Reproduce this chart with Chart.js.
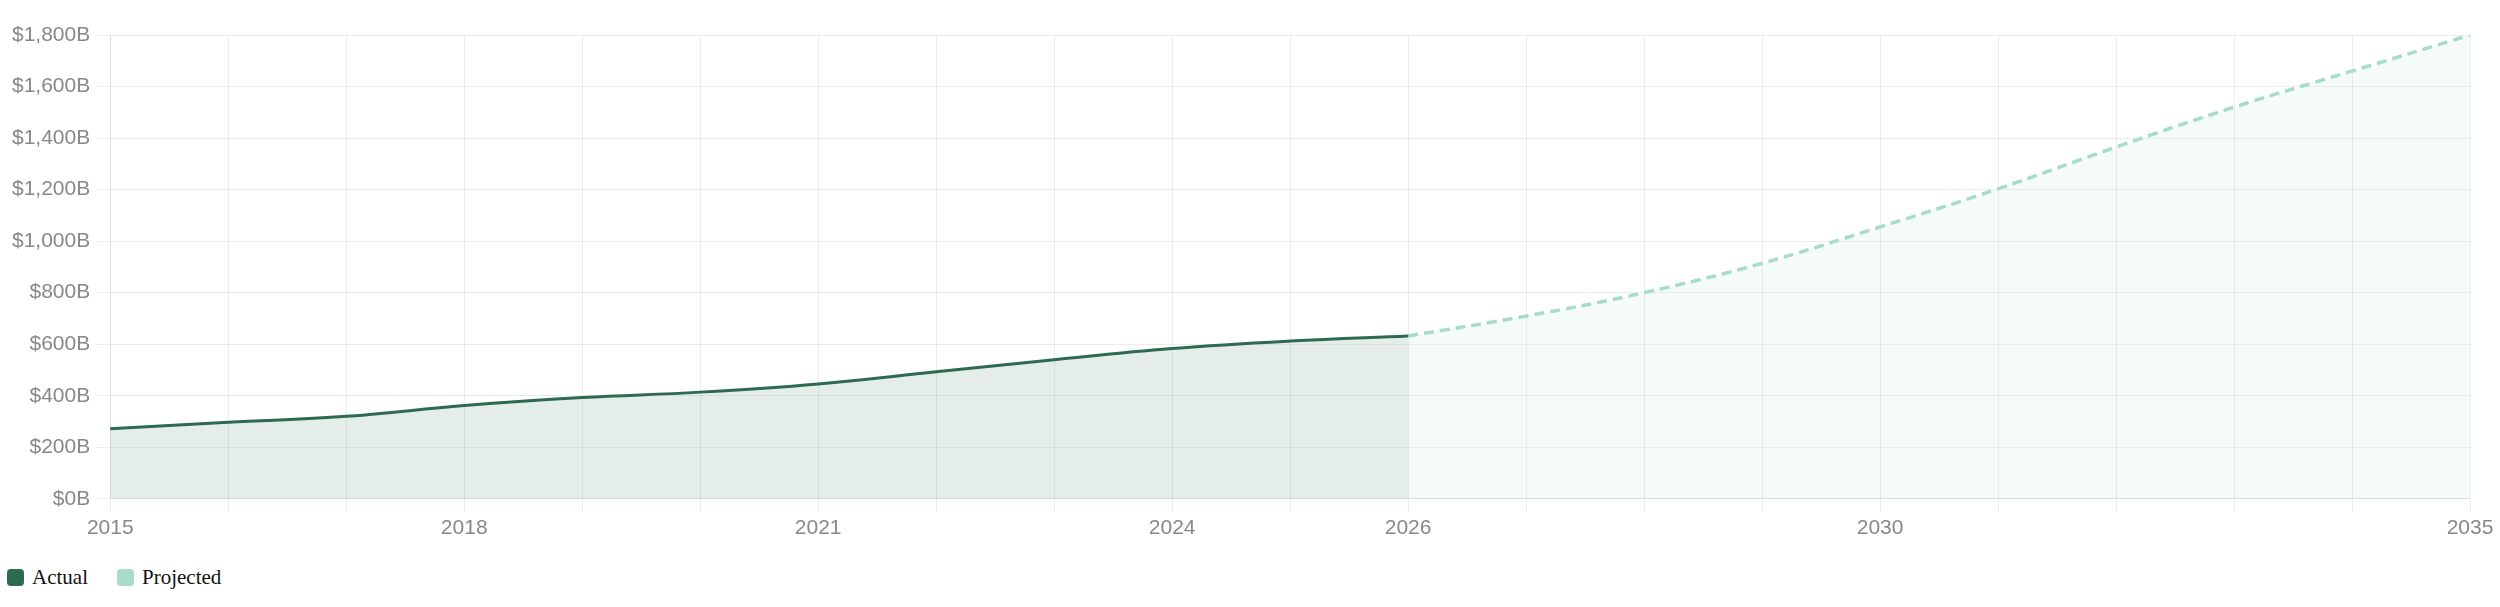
<!DOCTYPE html>
<html>
<head>
<meta charset="utf-8">
<title>Market size</title>
<script src="https://cdn.jsdelivr.net/npm/chart.js@4.4.0/dist/chart.umd.min.js"></script>
<style>
  body { margin: 0; background: #fff; }
  #wrap { position: relative; width: 2500px; height: 545px; }
  #legend { position: absolute; top: 565px; left: 7px; display: flex; align-items: center;
            font-family: "Liberation Serif", "Times New Roman", serif; font-size: 21px; color: #111; }
  .item { display: flex; align-items: center; margin-right: 29px; }
  .sw { width: 17px; height: 17px; border-radius: 4px; margin-right: 8px; }
</style>
</head>
<body>
<div id="wrap"><canvas id="grafico"></canvas></div>
<div id="legend">
  <div class="item"><span class="sw" style="background:#2d6a4f"></span>Actual</div>
  <div class="item"><span class="sw" style="background:#a8dcc8"></span>Projected</div>
</div>
<script>
// years on the x axis
const years = ['2015','2016','2017','2018','2019','2020','2021','2022','2023','2024','2025',
               '2026','2027','2028','2029','2030','2031','2032','2033','2034','2035'];
// only these get a label
const shownYears = ['2015','2018','2021','2024','2026','2030','2035'];
// values in $B
const actual = [272, 297, 320, 362, 393, 414, 446, 493, 540, 583, 612, 632,
                null, null, null, null, null, null, null, null, null];
const projected = [null, null, null, null, null, null, null, null, null, null, null,
                   632, 709, 800, 914, 1055, 1203, 1365, 1520, 1660, 1800];
const yTicks = [0, 200, 400, 600, 800, 1000, 1200, 1400, 1600, 1800];

const tickFont = { family: '"Liberation Sans", Arial, Helvetica, sans-serif', size: 21 };
const gridColor = 'rgba(0,0,0,0.07)';

new Chart(document.getElementById('grafico'), {
  type: 'line',
  data: {
    labels: years,
    datasets: [
      {
        label: 'Actual',
        data: actual,
        borderColor: '#2d6a4f',
        backgroundColor: 'rgba(45,106,79,0.12)',
        borderWidth: 3,
        fill: 'origin',
        tension: 0.4,
        pointRadius: 0
      },
      {
        label: 'Projected',
        data: projected,
        borderColor: '#a8dcc8',
        backgroundColor: 'rgba(168,220,200,0.12)',
        borderWidth: 3.5,
        borderDash: [10, 6],
        fill: 'origin',
        tension: 0.4,
        pointRadius: 0
      }
    ]
  },
  options: {
    responsive: true,
    maintainAspectRatio: false,
    animation: false,
    layout: { padding: { top: 35, right: 30, left: 6 } },
    plugins: { legend: { display: false }, tooltip: { enabled: false } },
    scales: {
      x: {
        grid: { color: gridColor, tickLength: 13 },
        border: { color: gridColor },
        ticks: {
          color: '#888',
          font: tickFont,
          padding: 4,
          autoSkip: false,
          maxRotation: 0,
          callback: function (value) {
            const y = years[value];
            return shownYears.includes(y) ? y : '';
          }
        }
      },
      y: {
        min: yTicks[0],
        max: yTicks[yTicks.length - 1],
        grid: { color: gridColor, tickLength: 14 },
        border: { color: gridColor },
        afterBuildTicks: (scale) => { scale.ticks = yTicks.map(v => ({ value: v })); },
        ticks: {
          color: '#888',
          font: tickFont,
          padding: 6,
          callback: (v) => '$' + v.toLocaleString('en-US') + 'B'
        }
      }
    }
  }
});
</script>
</body>
</html>
